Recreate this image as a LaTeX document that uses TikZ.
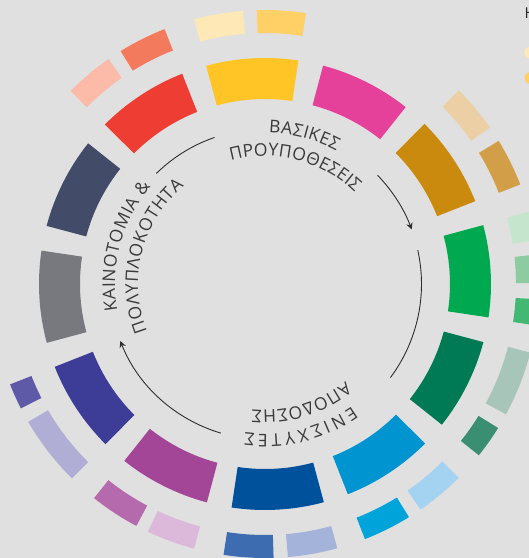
\documentclass[tikz,border=0pt]{standalone}
\usepackage{fontspec}
\setmainfont{Open Sans}
\newfontfamily\lblfamily{Open Sans}
\usetikzlibrary{decorations.text,arrows.meta}
\definecolor{bg}{HTML}{E0E0E0}
\definecolor{txt}{HTML}{3A3A3A}
\definecolor{linecol}{HTML}{2E2E2E}
\newcommand\lbltxt{\lblfamily\fontsize{17.5}{19}\selectfont}
\newcommand\ringseg[5]{%
  \definecolor{segcol}{HTML}{#5}%
  \fill[segcol] (#1:#3pt) arc[start angle=#1, end angle=#2, radius=#3pt]
    -- (#2:#4pt) arc[start angle=#2, end angle=#1, radius=#4pt] -- cycle;}
\tikzset{
  arcline/.style={draw=linecol, line width=0.9pt},
  arrowline/.style={arcline, -{Stealth[length=6.5pt,width=6.5pt]}},
  ringtext/.style={decorate, decoration={text along path, text={#1},
      text align=fit to path, text color=txt}},
}
\begin{document}
\begin{tikzpicture}[x=1pt,y=1pt]
\useasboundingbox (-265,-274) rectangle (264,284);
\fill[bg] (-265,-274) rectangle (264,284);
% inner ring
\foreach \c/\h in {93.3/FFC425,63.3/E6419A,33.3/C98A0E,3.3/00A84F,-26.7/007A55,
  -56.7/0094D1,-86.7/00519C,-116.7/A34698,-146.7/3D3D97,-176.7/78797F,
  153.3/424C69,123.3/EE3D33}{
  \pgfmathsetmacro\sa{\c-11.8}\pgfmathsetmacro\ea{\c+11.8}
  \ringseg{\sa}{\ea}{185}{226}{\h}
}
% outer ring
\foreach \sa/\ea/\h in {81.4/91.7/FFD065, 94.6/105/FEE8B5,
  111.5/121.8/F47A5E, 124.8/135.2/FBBBA8,
  21.3/31.5/D39E48, 34.8/45/ECCFA4,
  -8.7/-3.2/43B872, 0.2/6.2/8DCCA0, 9.2/15.3/C5E5CC,
  -38.7/-31.7/3A8F73, -28.4/-14.5/A7C6B9,
  -68.6/-58.3/00A4DA, -55.4/-45/A3D3F0,
  -98.7/-88.2/3E6CB0, -85.2/-74.7/A4B3DA,
  -128.6/-118/B46AAC, -115.3/-105/DCB9DA,
  201.5/207/5F5AA8, 210.2/225.2/B0AED5}{
  \ringseg{\sa}{\ea}{251}{274}{\h}
}
% circular arrows
\draw[arcline] (134.5:155pt) arc[start angle=134.5, end angle=109, radius=155pt];
\draw[arrowline] (44:156.5pt) arc[start angle=44, end angle=20.4, radius=156.5pt];
\draw[arcline] (12.5:156.5pt) arc[start angle=12.5, end angle=-36.7, radius=156.5pt];
\draw[arrowline] (253.5:155.5pt) arc[start angle=253.5, end angle=201.5, radius=155.5pt];
% ring texts
\path[ringtext={|\lbltxt|ΒΑΣΙΚΕΣ}] (88.5:151pt) arc[start angle=88.5, end angle=61.8, radius=151pt];
\path[ringtext={|\lbltxt|ΠΡΟΥΠΟΘΕΣΕΙΣ}] (105.5:128pt) arc[start angle=105.5, end angle=45.5, radius=128pt];
\path[ringtext={|\lbltxt|ΚΑΙΝΟΤΟΜΙΑ {\&}}] (190.3:150pt) arc[start angle=190.3, end angle=139.6, radius=150pt];
\path[ringtext={|\lbltxt|ΠΟΛΥΠΛΟΚΟΤΗΤΑ}] (201.9:127pt) arc[start angle=201.9, end angle=129.6, radius=127pt];
\path[ringtext={|\lbltxt|ΕΝΙΣΧΥΤΕΣ}] (-54.5:150pt) arc[start angle=-54.5, end angle=-97.7, radius=150pt];
\path[ringtext={|\lbltxt|ΑΠΟΔΟΣΗΣ}] (-50.3:126pt) arc[start angle=-50.3, end angle=-95.9, radius=126pt];
% legend (cropped at the right edge)
\node[anchor=base west, inner sep=0pt, text=black!85, font=\fontsize{15}{17}\selectfont] (legtitle) at (259.5,266) {Η};
\fill[fill={rgb,255:red,254;green,232;blue,181}] (265.5,231.5) circle[radius=6];
\fill[fill={rgb,255:red,255;green,208;blue,101}] (265.5,206) circle[radius=6];
\end{tikzpicture}
\end{document}
